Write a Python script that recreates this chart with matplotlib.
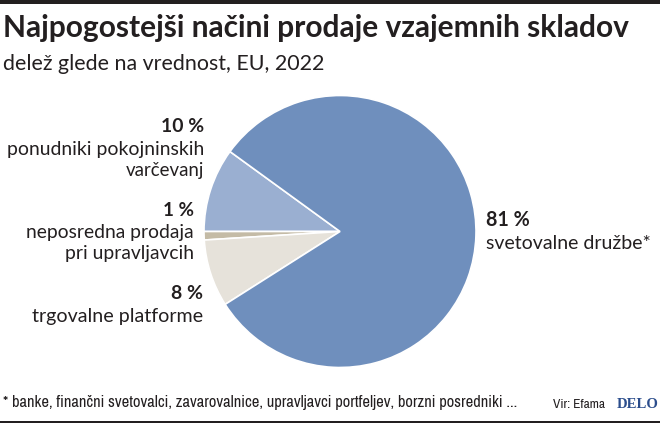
import matplotlib
matplotlib.use("Agg")
import matplotlib.pyplot as plt
from matplotlib.patches import Rectangle
from matplotlib import font_manager
from matplotlib.font_manager import FontProperties

# ---- data ----
categories = ["ponudniki pokojninskih\nvarčevanj",
              "neposredna prodaja\npri upravljavcih",
              "trgovalne platforme",
              "svetovalne družbe*"]
values = [10, 1, 8, 81]
pct_labels = ["10 %", "1 %", "8 %", "81 %"]
colors = ["#9aafd1", "#c4bba6", "#e6e2da", "#6f8fbd"]

title = "Najpogostejši načini prodaje vzajemnih skladov"
subtitle = "delež glede na vrednost, EU, 2022"
footnote = "* banke, finančni svetovalci, zavarovalnice, upravljavci portfeljev, borzni posredniki ..."
source = "Vir: Efama"
brand = "DELO"

W, H = 660, 424
TXT = "#231f20"
FONT = "Lato"

# look for a condensed face for the footer
cond_prop = None
for f in font_manager.fontManager.ttflist:
    n = f.name
    if any(k in n for k in ("Condensed", "Narrow")) and "Mono" not in n and "Serif" not in n:
        cond_prop = FontProperties(family=n)
        break
if cond_prop is None:
    for f in font_manager.fontManager.ttflist:
        if str(f.stretch) in ("condensed", "semi-condensed", "500", "300", "400") and "Condensed" in f.fname \
                and "Mono" not in f.fname and "Serif" not in f.fname and f.weight in (400, "normal"):
            cond_prop = FontProperties(fname=f.fname)
            break
if cond_prop is None:
    cond_prop = FontProperties(family=FONT)

fig = plt.figure(figsize=(W / 100, H / 100), dpi=100)
fig.patch.set_facecolor("white")
renderer = fig.canvas.get_renderer()


def px(x, y):
    return x / W, 1 - y / H


def put(x, y, s, width, ha="left", size=12, fp=None, **kw):
    color = kw.pop("color", TXT)
    if fp is not None:
        fp = fp.copy()
        fp.set_size(size)
        t = fig.text(*px(x, y), s, ha=ha, va="baseline", fontproperties=fp, color=color)
    else:
        t = fig.text(*px(x, y), s, ha=ha, va="baseline", fontsize=size, color=color, **kw)
    for _ in range(3):
        w = t.get_window_extent(renderer).width
        t.set_fontsize(t.get_fontsize() * width / w)
    return t


# header / footer rules
fig.add_artist(Rectangle(px(0, 4), 1, 4 / H, transform=fig.transFigure, color="#231f20", lw=0))
fig.add_artist(Rectangle(px(0, 423), 1, 2 / H, transform=fig.transFigure, color="#231f20", lw=0))

put(3, 37, title, 625, family=FONT, fontweight="bold", size=18)
put(3, 70, subtitle, 320, family=FONT, size=13)

# pie
cx, cy, r = 340, 231.5, 136
x0, y0 = px(cx - r, cy + r)
ax = fig.add_axes([x0, y0, 2 * r / W, 2 * r / H])
ax.pie(values, startangle=144, counterclock=True, colors=colors,
       wedgeprops=dict(edgecolor="white", linewidth=1.2))
ax.set_xlim(-1, 1)
ax.set_ylim(-1, 1)
ax.set_aspect("equal")
ax.axis("off")

# left labels
put(204, 132, pct_labels[0], 43, ha="right", family=FONT, fontweight="bold", size=14)
l1, l2 = categories[0].split("\n")
put(204, 155, l1, 197, ha="right", family=FONT, size=14)
put(204, 176, l2, 78, ha="right", family=FONT, size=14)

put(194, 216, pct_labels[1], 31, ha="right", family=FONT, fontweight="bold", size=14)
l1, l2 = categories[1].split("\n")
put(194, 238, l1, 168, ha="right", family=FONT, size=14)
put(194, 259, l2, 129, ha="right", family=FONT, size=14)

put(203, 299, pct_labels[2], 32, ha="right", family=FONT, fontweight="bold", size=14)
put(203, 322, categories[2], 170, ha="right", family=FONT, size=14)

# right label
put(486, 226, pct_labels[3], 44, family=FONT, fontweight="bold", size=14)
put(486, 249, categories[3], 164, family=FONT, size=14)

# footer
put(3, 407, footnote, 514, size=10, fp=cond_prop)
put(553, 408, source, 52, size=9, fp=cond_prop)
put(617, 408, brand, 42, family="Liberation Serif", fontweight="bold", size=11, color="#2b4d8c")

fig.savefig("out.png", dpi=100, facecolor="white")
